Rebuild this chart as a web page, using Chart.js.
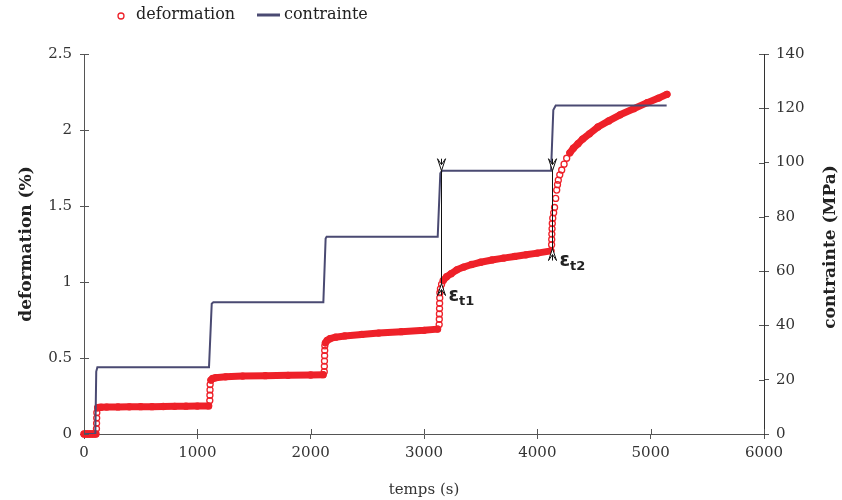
<!DOCTYPE html>
<html>
<head>
<meta charset="utf-8">
<script src="https://cdn.jsdelivr.net/npm/chart.js@4.4.1/dist/chart.umd.min.js"></script>
<style>
    html, body { margin: 0; padding: 0; background: #fff; }
</style>
</head>
<body>
<canvas id="chart" width="842" height="500"></canvas>
<script>
// deformation (%) vs temps (s)
const deformTime = [
    0, 15, 30, 45, 60, 75, 90, 105,
    110, 111, 112, 113,
    120, 130, 150, 200, 300, 400, 500, 600, 700, 800, 900, 1000, 1100,
    1110, 1111, 1112, 1113,
    1120, 1135, 1160, 1250, 1400, 1600, 1800, 2000, 2110,
    2120, 2121, 2122, 2123, 2124, 2125,
    2130, 2145, 2170, 2220, 2300, 2450, 2600, 2800, 3000, 3120,
    3134, 3135, 3136, 3137, 3138, 3139, 3140,
    3145, 3155, 3170, 3200, 3240, 3290, 3350, 3420, 3500, 3600, 3700, 3800, 3900, 4000, 4120,
    4126, 4127, 4128, 4130, 4132, 4136, 4144,
    4152, 4162, 4171, 4178, 4185, 4198, 4215, 4236, 4259, 4287, 4318, 4359, 4400, 4460,
    4535, 4630, 4730, 4850, 4970, 5070, 5144
];
const deformValue = [
    0, 0, 0, 0, 0, 0, 0, 0,
    0.035, 0.07, 0.105, 0.14,
    0.172, 0.175, 0.176, 0.177, 0.178, 0.179, 0.18, 0.18, 0.181, 0.182, 0.183, 0.184, 0.185,
    0.22, 0.255, 0.29, 0.325,
    0.355, 0.365, 0.37, 0.376, 0.381, 0.384, 0.386, 0.388, 0.39,
    0.41, 0.445, 0.48, 0.515, 0.55, 0.58,
    0.6, 0.615, 0.627, 0.637, 0.645, 0.655, 0.664, 0.673, 0.682, 0.69,
    0.72, 0.755, 0.79, 0.825, 0.86, 0.895, 0.93,
    0.955, 0.985, 1.01, 1.035, 1.055, 1.08, 1.098, 1.115, 1.13, 1.145, 1.157, 1.168, 1.179, 1.19, 1.205,
    1.245, 1.28, 1.315, 1.35, 1.385, 1.42, 1.455,
    1.49, 1.55, 1.605, 1.64, 1.67, 1.705, 1.737, 1.775, 1.814, 1.85, 1.88, 1.91, 1.94, 1.975,
    2.02, 2.06, 2.1, 2.14, 2.18, 2.21, 2.235
];

// contrainte (MPa) vs temps (s)
const stressTime = [0, 100, 108, 118, 1103, 1127, 1141, 2112, 2132, 2141, 3121, 3144, 3159, 4121, 4141, 4162, 5141];
const stressValue = [0, 0, 23, 24.6, 24.6, 48, 48.5, 48.5, 72, 72.7, 72.7, 96, 97, 97, 119.4, 121, 121];

// repères epsilon_t
const markerTime = [3150, 4127];
const markerStress = [97, 97];
const markerStrain = [0.99, 1.22];
const markerLabel = ['t1', 't2'];

const RED = '#ee2129';
const STRESS = '#4a4a72';
const AXIS = '#555';
const SERIF = '"DejaVu Serif", serif';

const deformPoints = deformTime.map((t, i) => ({ x: t, y: deformValue[i] }));
const stressPoints = stressTime.map((t, i) => ({ x: t, y: stressValue[i] }));

// petits tirets qui traversent les axes + titres + légende + repères
const decorPlugin = {
    id: 'decor',
    afterDatasetsDraw(chart) {
        const { ctx, scales } = chart;
        const sx = scales.x, sy = scales.y, sy2 = scales.y2;
        ctx.save();

        // repères
        ctx.strokeStyle = '#111';
        ctx.lineWidth = 1;
        const chevron = (x, tipY, dir) => {
            const len = 12, w = 4;
            ctx.beginPath();
            ctx.moveTo(x - w, tipY + dir * len);
            ctx.lineTo(x, tipY);
            ctx.lineTo(x + w, tipY + dir * len);
            ctx.lineTo(x, tipY + dir * len * 0.5);
            ctx.closePath();
            ctx.fillStyle = '#fff';
            ctx.fill();
            ctx.stroke();
        };
        markerTime.forEach((t, i) => {
            const px = Math.round(sx.getPixelForValue(t)) + 0.5;
            const top = sy2.getPixelForValue(markerStress[i]);
            const bot = sy.getPixelForValue(markerStrain[i]);
            ctx.beginPath();
            ctx.moveTo(px, top - 12);
            ctx.lineTo(px, bot + 12);
            ctx.stroke();
            chevron(px, top, -1);
            chevron(px, bot, 1);

            ctx.fillStyle = '#222';
            ctx.textBaseline = 'alphabetic';
            ctx.textAlign = 'left';
            ctx.font = 'bold 19px "DejaVu Sans"';
            ctx.fillText('ε', px + 7, bot + 17);
            const w = ctx.measureText('ε').width;
            ctx.font = 'bold 13px "DejaVu Sans"';
            ctx.fillText(markerLabel[i], px + 7 + w, bot + 21);
        });
        ctx.restore();
    },
    afterDraw(chart) {
        const { ctx, chartArea, scales } = chart;
        ctx.save();
        ctx.strokeStyle = AXIS;
        ctx.lineWidth = 1;
        ctx.beginPath();
        scales.x.ticks.forEach(t => {
            const px = Math.round(scales.x.getPixelForValue(t.value)) + 0.5;
            ctx.moveTo(px, chartArea.bottom);
            ctx.lineTo(px, chartArea.bottom - 5);
        });
        scales.y.ticks.forEach(t => {
            const py = Math.round(scales.y.getPixelForValue(t.value)) + 0.5;
            ctx.moveTo(chartArea.left, py);
            ctx.lineTo(chartArea.left + 5, py);
        });
        scales.y2.ticks.forEach(t => {
            const py = Math.round(scales.y2.getPixelForValue(t.value)) + 0.5;
            ctx.moveTo(chartArea.right, py);
            ctx.lineTo(chartArea.right - 5, py);
        });
        ctx.stroke();

        // titres des axes
        ctx.fillStyle = '#222';
        ctx.textAlign = 'center';
        ctx.textBaseline = 'middle';
        const midY = (chartArea.top + chartArea.bottom) / 2;
        ctx.font = 'bold 17px ' + SERIF;
        ctx.save();
        ctx.translate(27, midY);
        ctx.rotate(-Math.PI / 2);
        ctx.fillText('deformation (%)', 0, 0);
        ctx.restore();
        ctx.save();
        ctx.translate(chartArea.right + 67, midY + 3);
        ctx.rotate(-Math.PI / 2);
        ctx.fillText('contrainte (MPa)', 0, 0);
        ctx.restore();
        ctx.font = '15px ' + SERIF;
        ctx.fillStyle = '#333';
        ctx.fillText('temps (s)', (chartArea.left + chartArea.right) / 2, chartArea.bottom + 56);

        // légende
        const ly = 15;
        ctx.strokeStyle = RED;
        ctx.lineWidth = 1.3;
        ctx.beginPath();
        ctx.arc(121, ly + 1, 3, 0, Math.PI * 2);
        ctx.stroke();
        ctx.strokeStyle = STRESS;
        ctx.lineWidth = 3;
        ctx.beginPath();
        ctx.moveTo(257, ly);
        ctx.lineTo(280, ly);
        ctx.stroke();
        ctx.font = '16px ' + SERIF;
        ctx.fillStyle = '#222';
        ctx.textAlign = 'left';
        ctx.fillText(chart.data.datasets[0].label, 136, ly);
        ctx.fillText(chart.data.datasets[1].label, 284, ly);
        ctx.restore();
    }
};

const tickFont = { family: SERIF, size: 15 };

new Chart(document.getElementById('chart'), {
    type: 'scatter',
    data: {
        datasets: [{
            label: 'deformation',
            data: deformPoints,
            yAxisID: 'y',
            showLine: true,
            borderColor: RED,
            borderWidth: 7,
            borderCapStyle: 'round',
            borderJoinStyle: 'round',
            pointRadius: 3,
            pointBorderWidth: 1.3,
            pointBorderColor: RED,
            pointBackgroundColor: 'rgba(0,0,0,0)',
            clip: false,
            order: 2,
            segment: {
                // pas de trait dans les sauts verticaux, seulement les cercles
                borderColor: ctx => {
                    const dx = Math.abs(ctx.p1.x - ctx.p0.x);
                    const dy = Math.abs(ctx.p1.y - ctx.p0.y);
                    return dy > 1.5 * dx ? 'rgba(0,0,0,0)' : RED;
                }
            }
        }, {
            label: 'contrainte',
            data: stressPoints,
            yAxisID: 'y2',
            showLine: true,
            borderColor: STRESS,
            borderWidth: 2,
            pointRadius: 0,
            order: 1
        }]
    },
    options: {
        responsive: false,
        animation: false,
        events: [],
        layout: { padding: { top: 54 } },
        plugins: {
            legend: { display: false },
            tooltip: { enabled: false }
        },
        scales: {
            x: {
                type: 'linear',
                min: 0,
                max: 6000,
                ticks: { stepSize: 1000, color: '#333', font: tickFont, padding: 5, maxRotation: 0, callback: v => String(v) },
                grid: { drawOnChartArea: false, tickLength: 5, color: AXIS },
                border: { color: AXIS },
                afterFit: s => { s.height = 66; }
            },
            y: {
                position: 'left',
                min: 0,
                max: 2.5,
                ticks: { stepSize: 0.5, color: '#333', font: tickFont, padding: 8, callback: v => String(v) },
                grid: { drawOnChartArea: false, tickLength: 4, color: AXIS },
                border: { color: AXIS },
                afterFit: s => { s.width = 84; }
            },
            y2: {
                position: 'right',
                min: 0,
                max: 140,
                ticks: { stepSize: 20, color: '#333', font: tickFont, padding: 7, callback: v => String(v) },
                grid: { drawOnChartArea: false, tickLength: 5, color: AXIS },
                border: { color: '#333' },
                afterFit: s => { s.width = 78; }
            }
        }
    },
    plugins: [decorPlugin]
});
</script>
</body>
</html>
